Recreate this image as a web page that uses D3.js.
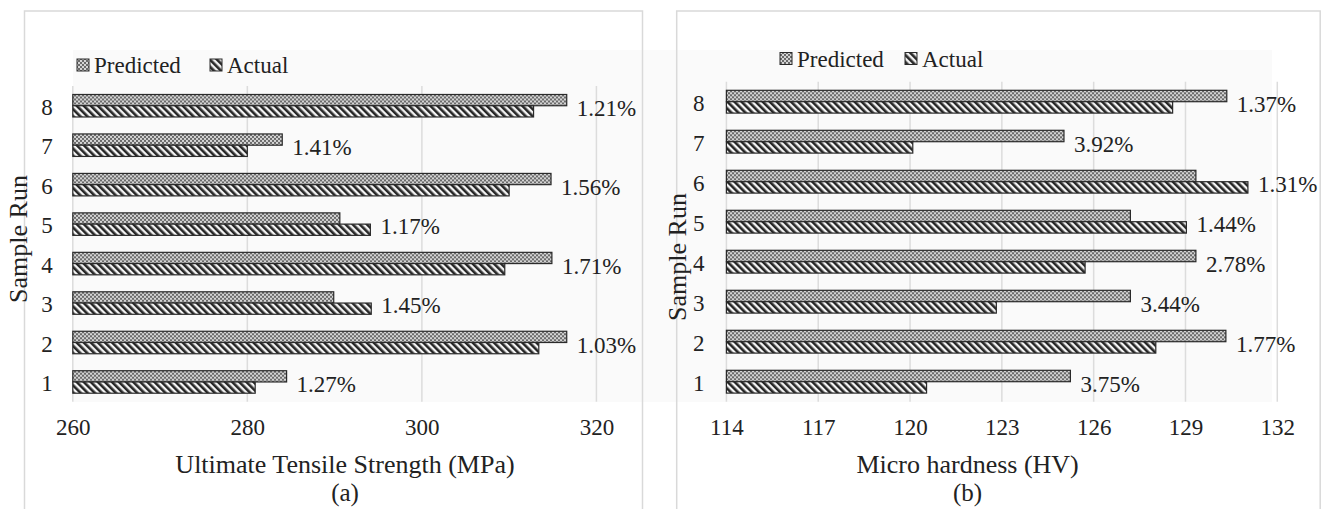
<!DOCTYPE html>
<html>
<head>
<meta charset="utf-8">
<script src="https://cdn.jsdelivr.net/npm/d3@7/dist/d3.min.js"></script>
<style>
  html, body { margin: 0; padding: 0; background: #fff; }
  svg { display: block; }
</style>
</head>
<body>
<svg id="fig" width="1323" height="509"></svg>
<script>
// Sample runs, bottom to top
const runs = ["1", "2", "3", "4", "5", "6", "7", "8"];

// (a) Ultimate tensile strength, MPa
const utsPredicted = [284.5, 316.6, 289.9, 314.9, 290.6, 314.8, 284.0, 316.6];
const utsActual    = [280.9, 313.4, 294.2, 309.5, 294.1, 310.0, 280.0, 312.8];
const utsError     = ["1.27%", "1.03%", "1.45%", "1.71%", "1.17%", "1.56%", "1.41%", "1.21%"];
const utsTicks     = [260, 280, 300, 320];

// (b) Micro hardness, HV
const hvPredicted = [125.24, 130.32, 127.2, 129.34, 127.2, 129.34, 125.03, 130.35];
const hvActual    = [120.54, 128.03, 122.82, 125.72, 129.03, 131.04, 120.09, 128.58];
const hvError     = ["3.75%", "1.77%", "3.44%", "2.78%", "1.44%", "1.31%", "3.92%", "1.37%"];
const hvTicks     = [114, 117, 120, 123, 126, 129, 132];

const seriesNames = ["Predicted", "Actual"];

const FONT = "Liberation Serif";
const INK = "#222";

const svg = d3.select("#fig");
const defs = svg.append("defs");

// fine checker fill for predicted bars
const chk = defs.append("pattern").attr("id", "pat-pred")
  .attr("patternUnits", "userSpaceOnUse").attr("width", 4).attr("height", 4);
chk.append("rect").attr("width", 4).attr("height", 4).attr("fill", "#6a6a6a");
chk.append("rect").attr("width", 2).attr("height", 2).attr("fill", "#d4d4d4");
chk.append("rect").attr("x", 2).attr("y", 2).attr("width", 2).attr("height", 2).attr("fill", "#d4d4d4");

// wide downward diagonal for actual bars
const dg = defs.append("pattern").attr("id", "pat-act")
  .attr("patternUnits", "userSpaceOnUse").attr("width", 5).attr("height", 5)
  .attr("patternTransform", "rotate(-45)");
dg.append("rect").attr("width", 5).attr("height", 5).attr("fill", "#f4f4f4");
dg.append("rect").attr("width", 2.6).attr("height", 5).attr("fill", "#262626");

const fills = ["url(#pat-pred)", "url(#pat-act)"];

// faint backdrop behind the plotting areas
svg.append("rect").attr("x", 73).attr("y", 50).attr("width", 1199).attr("height", 352)
  .attr("fill", "#fafafa");

function label(sel) {
  return sel.attr("font-family", FONT).attr("fill", INK);
}

function panel(cfg) {
  const g = svg.append("g");

  // outer frame
  g.append("rect")
    .attr("x", cfg.frame[0]).attr("y", cfg.frame[1])
    .attr("width", cfg.frame[2]).attr("height", cfg.frame[3])
    .attr("fill", "none").attr("stroke", "#d9d9d9").attr("stroke-width", 1.5);

  const x = d3.scaleLinear().domain(cfg.domain).range([cfg.left, cfg.right]);
  const y = d3.scaleBand().domain(runs.slice().reverse())
    .range([cfg.top, cfg.bottom]).paddingInner(0.43).paddingOuter(0.215);

  // vertical gridlines
  g.append("g").selectAll("line").data(cfg.ticks).join("line")
    .attr("x1", d => x(d)).attr("x2", d => x(d))
    .attr("y1", cfg.top).attr("y2", cfg.bottom)
    .attr("stroke", "#dcdcdc").attr("stroke-width", 1.5);

  // x axis tick labels
  const xa = d3.axisBottom(x).tickValues(cfg.ticks).tickSize(0).tickPadding(0);
  const xg = g.append("g").attr("transform", `translate(0,${cfg.tickY})`).call(xa);
  xg.attr("font-family", FONT).attr("font-size", 23);
  xg.select(".domain").remove();
  label(xg.selectAll("text")).attr("font-size", 23).attr("dy", 0);

  // y axis run labels
  const ya = d3.axisLeft(y).tickSize(0).tickPadding(cfg.yPad);
  const yg = g.append("g").attr("transform", `translate(${cfg.left},0)`).call(ya);
  yg.attr("font-family", FONT).attr("font-size", 23);
  yg.select(".domain").remove();
  label(yg.selectAll("text")).attr("font-size", 23).attr("dy", "0.4em");

  // bars
  const rows = runs.map((r, i) => ({ run: r, vals: [cfg.pred[i], cfg.act[i]], err: cfg.err[i] }));
  const h = y.bandwidth() / 2;
  const rg = g.append("g").selectAll("g").data(rows).join("g")
    .attr("transform", d => `translate(0,${y(d.run)})`);
  rg.selectAll("rect").data(d => d.vals).join("rect")
    .attr("x", x(cfg.domain[0]))
    .attr("y", (d, j) => j * h)
    .attr("width", d => x(d) - x(cfg.domain[0]))
    .attr("height", h)
    .attr("fill", (d, j) => fills[j])
    .attr("stroke", "#2a2a2a").attr("stroke-width", 1.2);

  // error labels
  label(rg.append("text"))
    .attr("x", d => x(Math.max(d.vals[0], d.vals[1])) + 10)
    .attr("y", y.bandwidth() / 2 + 2)
    .attr("dy", "0.36em")
    .attr("font-size", 23)
    .text(d => d.err);

  // legend
  const lg = g.append("g");
  seriesNames.forEach((name, j) => {
    lg.append("rect")
      .attr("x", cfg.legend[j]).attr("y", cfg.legendY - 6)
      .attr("width", 12).attr("height", 12)
      .attr("fill", fills[j]).attr("stroke", "#2a2a2a").attr("stroke-width", 1);
    label(lg.append("text"))
      .attr("x", cfg.legend[j] + 17).attr("y", cfg.legendY)
      .attr("dy", "0.35em").attr("font-size", 23)
      .text(name);
  });

  // axis titles
  label(g.append("text"))
    .attr("x", cfg.titleX).attr("y", 473)
    .attr("text-anchor", "middle").attr("font-size", 26)
    .text(cfg.title);
  label(g.append("text"))
    .attr("x", cfg.titleX).attr("y", 501)
    .attr("text-anchor", "middle").attr("font-size", 25)
    .text(cfg.tag);
  label(g.append("text"))
    .attr("transform", `translate(${cfg.yTitleX},${cfg.yTitleY}) rotate(-90)`)
    .attr("text-anchor", "middle").attr("font-size", 26)
    .text("Sample Run");
}

panel({
  frame: [24.5, 11, 618, 520],
  domain: [260, 320], ticks: utsTicks,
  left: 72.8, right: 596.4, top: 86, bottom: 401.7,
  tickY: 435, yPad: 20,
  pred: utsPredicted, act: utsActual, err: utsError,
  legend: [77, 210], legendY: 65,
  title: "Ultimate Tensile Strength (MPa)", tag: "(a)", titleX: 345,
  yTitleX: 27, yTitleY: 239
});

panel({
  frame: [676.7, 11, 643.5, 520],
  domain: [114, 132], ticks: hvTicks,
  left: 726.4, right: 1277.3, top: 81.7, bottom: 401.7,
  tickY: 435, yPad: 22,
  pred: hvPredicted, act: hvActual, err: hvError,
  legend: [780, 905], legendY: 58.5,
  title: "Micro hardness (HV)", tag: "(b)", titleX: 967.6,
  yTitleX: 686, yTitleY: 257
});
</script>
</body>
</html>
